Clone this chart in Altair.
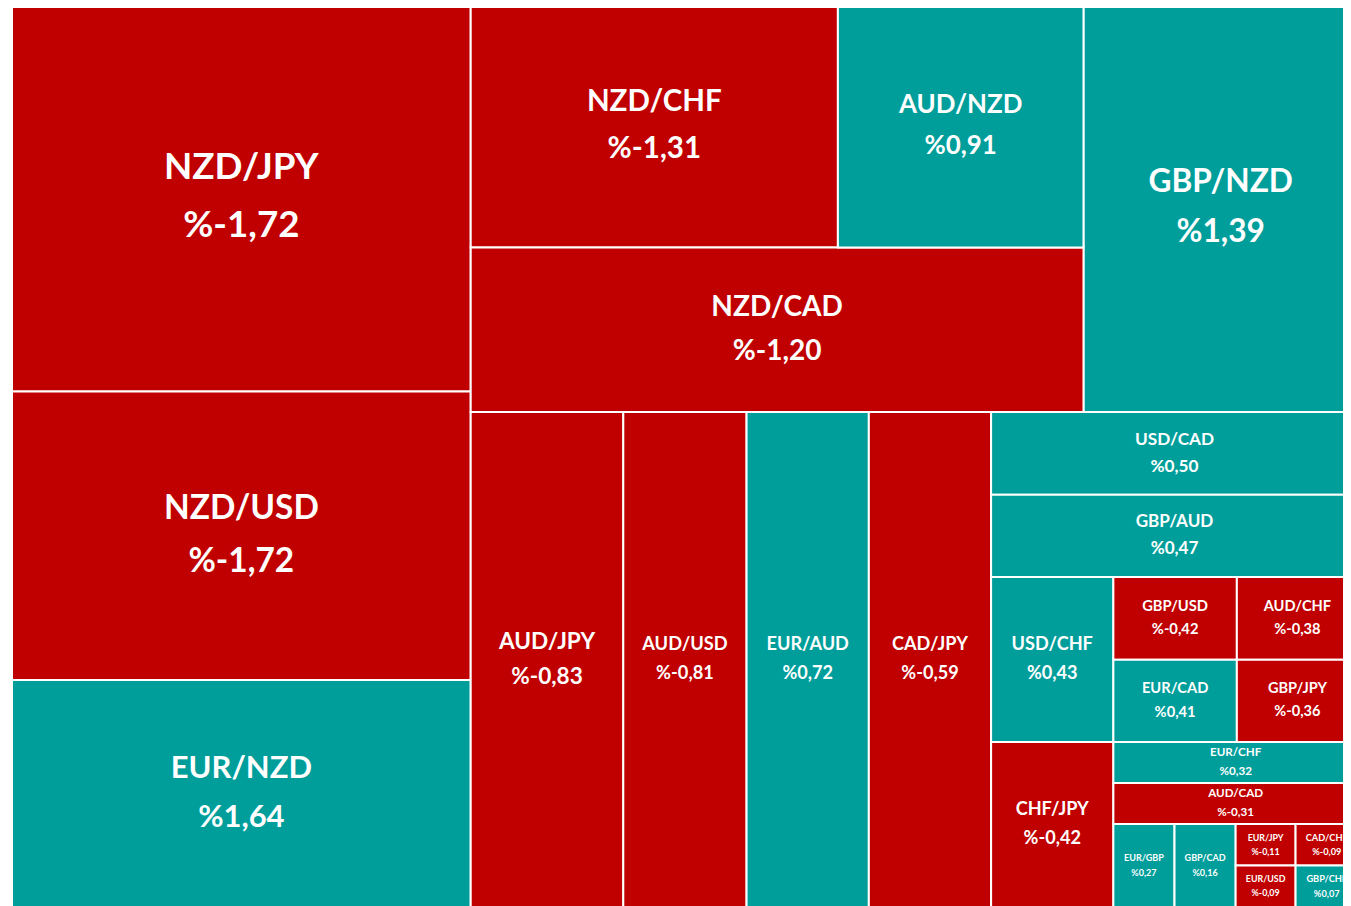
import altair as alt
import pandas as pd

# ---- data ----
pairs = ["NZD/JPY", "NZD/USD", "EUR/NZD", "GBP/NZD", "NZD/CHF", "NZD/CAD", "AUD/NZD",
         "AUD/JPY", "AUD/USD", "EUR/AUD", "CAD/JPY", "USD/CAD", "GBP/AUD", "USD/CHF",
         "GBP/USD", "CHF/JPY", "EUR/CAD", "AUD/CHF", "GBP/JPY", "EUR/CHF", "AUD/CAD",
         "EUR/GBP", "GBP/CAD", "EUR/JPY", "CAD/CHF", "EUR/USD", "GBP/CHF"]
changes = [-1.72, -1.72, 1.64, 1.39, -1.31, -1.20, 0.91,
           -0.83, -0.81, 0.72, -0.59, 0.50, 0.47, 0.43,
           -0.42, -0.42, 0.41, -0.38, -0.36, 0.32, -0.31,
           0.27, 0.16, -0.11, -0.09, -0.09, 0.07]
# tile weights (relative tile areas)
weights = [179.3, 133.1, 104.8, 112.9, 90.3, 101.4, 60.4,
           76.0, 61.4, 60.9, 60.9, 30.6, 30.3, 20.3,
           10.3, 20.3, 10.2, 10.1, 10.0, 10.1, 10.1,
           5.1, 5.1, 2.5, 2.6, 2.5, 2.6]

# nesting of the treemap (h = side by side, v = stacked)
layout = ("h", [
    ("v", ["NZD/JPY", "NZD/USD", "EUR/NZD"]),
    ("v", [
        ("h", [("v", [("h", ["NZD/CHF", "AUD/NZD"]), "NZD/CAD"]), "GBP/NZD"]),
        ("h", ["AUD/JPY", "AUD/USD", "EUR/AUD", "CAD/JPY",
               ("v", ["USD/CAD", "GBP/AUD",
                      ("h", [("v", ["USD/CHF", "CHF/JPY"]),
                             ("v", [("h", [("v", ["GBP/USD", "EUR/CAD"]),
                                           ("v", ["AUD/CHF", "GBP/JPY"])]),
                                    "EUR/CHF", "AUD/CAD",
                                    ("h", ["EUR/GBP", "GBP/CAD",
                                           ("v", ["EUR/JPY", "EUR/USD"]),
                                           ("v", ["CAD/CHF", "GBP/CHF"])])])])])])])])

RED = "#C00000"
TEAL = "#009E9B"
TOTAL_W, TOTAL_H = 1354, 904

wmap = dict(zip(pairs, weights))


def total(node):
    if isinstance(node, str):
        return wmap[node]
    return sum(total(c) for c in node[1])


rects = {}


def place(node, x0, y0, x1, y1):
    if isinstance(node, str):
        rects[node] = (x0, y0, x1, y1)
        return
    d, kids = node
    t = total(node)
    pos = x0 if d == "h" else y0
    for k in kids:
        share = total(k) / t
        if d == "h":
            w = (x1 - x0) * share
            place(k, pos, y0, pos + w, y1)
            pos += w
        else:
            h = (y1 - y0) * share
            place(k, x0, pos, x1, pos + h)
            pos += h


place(layout, 0, 0, TOTAL_W, TOTAL_H)

rows = []
for p, c in zip(pairs, changes):
    x0, y0, x1, y1 = rects[p]
    w, h = x1 - x0, y1 - y0
    fs_ref = min(0.806 * (w * h) ** 0.32, 0.155 * w, 6.5 + 0.14 * h)
    xc, yc = (x0 + x1) / 2, (y0 + y1) / 2
    rows.append({
        "pair": p,
        "label": "%" + f"{c:.2f}".replace(".", ","),
        "sign": "neg" if c < 0 else "pos",
        "x0": x0, "x1": x1, "y0": y0, "y1": y1,
        "xc": xc,
        "ty1": yc - 0.75 * fs_ref,
        "ty2": yc + 0.75 * fs_ref,
        "fs": fs_ref * 0.95,
    })
df = pd.DataFrame(rows)

xs = alt.Scale(domain=[-4.02, 1339], nice=False, zero=False)
ys = alt.Scale(domain=[5, 903], nice=False, zero=False, reverse=True)

base = alt.Chart(df)
rect = base.mark_rect(stroke="white", strokeWidth=2, clip=True).encode(
    x=alt.X("x0:Q", scale=xs, axis=None),
    x2="x1:Q",
    y=alt.Y("y0:Q", scale=ys, axis=None),
    y2="y1:Q",
    color=alt.Color("sign:N", scale=alt.Scale(domain=["neg", "pos"], range=[RED, TEAL]), legend=None),
)
text_kw = dict(font="Lato", fontWeight="bold", color="white", baseline="middle", align="center", clip=True)
t1 = base.mark_text(**text_kw).encode(
    x=alt.X("xc:Q", scale=xs, axis=None),
    y=alt.Y("ty1:Q", scale=ys, axis=None),
    text="pair:N",
    size=alt.Size("fs:Q", scale=None, legend=None),
)
t2 = base.mark_text(**text_kw).encode(
    x=alt.X("xc:Q", scale=xs, axis=None),
    y=alt.Y("ty2:Q", scale=ys, axis=None),
    text="label:N",
    size=alt.Size("fs:Q", scale=None, legend=None),
)

chart = alt.layer(rect, t1, t2).properties(
    width=1335, height=898,
    autosize=alt.AutoSizeParams(type="none"),
    padding=0,
).configure_view(stroke=None)

chart.save("out.html", embed_options={"renderer": "svg", "actions": False})
